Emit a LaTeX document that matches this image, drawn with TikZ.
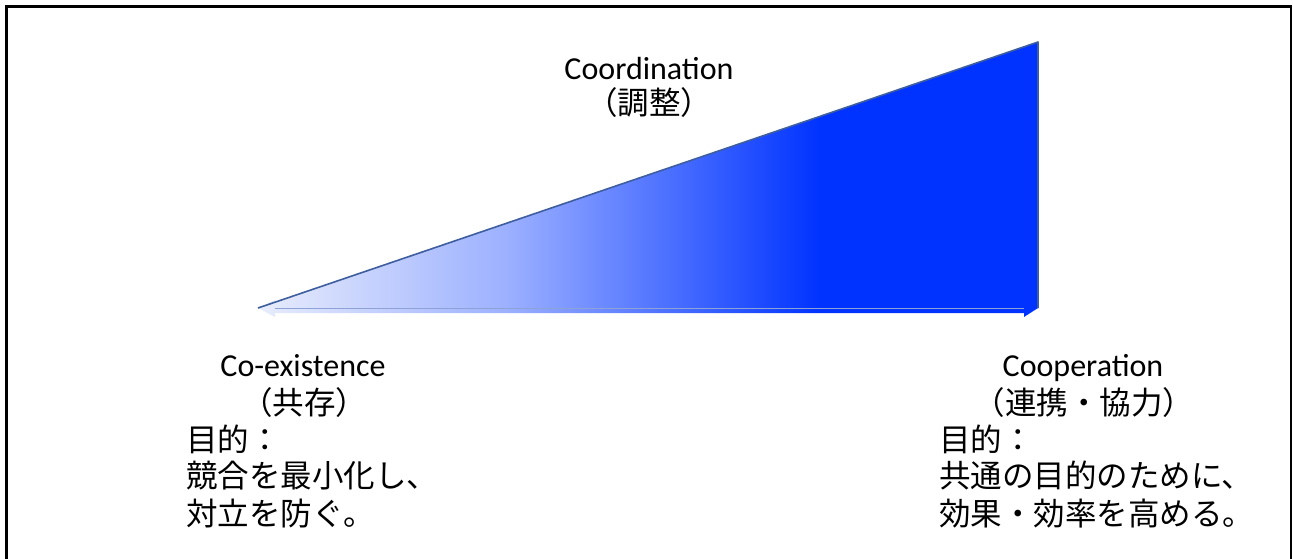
\documentclass[tikz,border=0pt]{standalone}
\usepackage{fontspec}
\setmainfont{Carlito}
\newfontfamily\jpfont{Noto Sans CJK JP}
\usetikzlibrary{calc}
\definecolor{paleblue}{HTML}{E8EDFB}
\definecolor{midblue}{HTML}{9CB0FF}
\definecolor{deepblue}{HTML}{0033FF}
\definecolor{edgeblue}{HTML}{3F5E9E}
\definecolor{shaftline}{HTML}{8DA2D6}
\pgfdeclarehorizontalshading{ramp}{100bp}{color(0bp)=(paleblue); color(25bp)=(paleblue); color(41bp)=(midblue); color(61bp)=(deepblue); color(100bp)=(deepblue)}
\tikzset{
  lat/.style={font=\fontsize{32}{37}\selectfont, inner sep=0pt},
  jp/.style={font=\jpfont\fontsize{31.5}{37}\selectfont, inner sep=0pt},
  frameline/.style={black, line cap=rect}
}
\begin{document}
\begin{tikzpicture}[x=1pt,y=-1pt]
\useasboundingbox (0,0) rectangle (1293,558);
% frame
\draw[frameline, line width=2.6pt] (6.3,558) -- (6.3,6.3) -- (1291,6.3);
\draw[frameline, line width=1.2pt] (1291,6.3) -- (1291,558);
% triangle
\coordinate (L) at (258,308);
\coordinate (T) at (1038,42);
\coordinate (R) at (1038,308);
\shade[shading=ramp] (L) -- (T) -- (R) -- cycle;
% double arrow
\shade[shading=ramp] (L) -- (275,300) -- (275,306) -- (1024,306) -- (1024,301) -- (R) -- (1024,317) -- (1024,313) -- (275,313) -- (275,317) -- cycle;
\draw[shaftline, line width=1pt] (275,308.5) -- (1024,308.5);
\draw[edgeblue, line width=1.6pt, line join=round] (L) -- (T) -- (R);
% labels
\node[lat, anchor=base] (coord) at (649,79) {Coordination};
\node[jp, anchor=base] (coordjp) at (649,114) {（調整）};
\node[lat, anchor=base] (coex) at (303,376) {Co-existence};
\node[jp, anchor=base] (coexjp) at (304,414) {（共存）};
\node[jp, anchor=base west] (p1) at (186,451) {目的：};
\node[jp, anchor=base west] (p2) at (186,487) {競合を最小化し、};
\node[jp, anchor=base west] (p3) at (186,525) {対立を防ぐ。};
\node[lat, anchor=base] (coop) at (1083,376) {Cooperation};
\node[jp, anchor=base] (coopjp) at (1084,414) {（連携・協力）};
\node[jp, anchor=base west] (q1) at (939,451) {目的：};
\node[jp, anchor=base west] (q2) at (939,487) {共通の目的のために、};
\node[jp, anchor=base west] (q3) at (939,525) {効果・効率を高める。};
\end{tikzpicture}
\end{document}
